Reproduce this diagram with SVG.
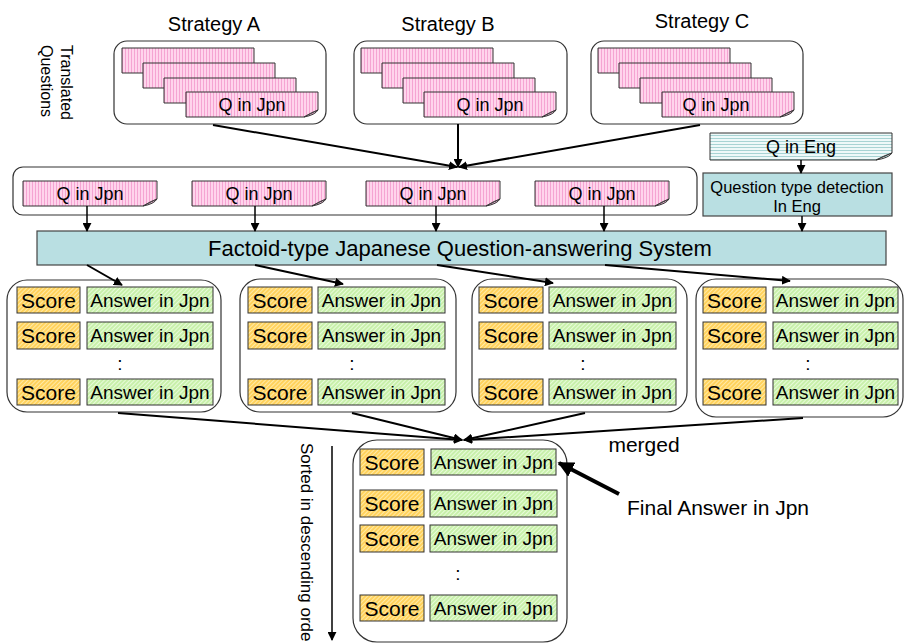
<svg xmlns="http://www.w3.org/2000/svg" xmlns:xlink="http://www.w3.org/1999/xlink" width="904" height="644" viewBox="0 0 904 644">
<style>
text{font-family:"Liberation Sans",Arial,sans-serif;fill:#000}
.grp{fill:#fff;stroke:#333;stroke-width:1.2}
.note{fill:url(#pPink);stroke:#333;stroke-width:1}
.fold{fill:#666;stroke:#333;stroke-width:0.8}
.sys{fill:#b9dfe2;stroke:#444;stroke-width:1.2}
.sc{fill:url(#pScore);stroke:#333;stroke-width:1}
.an{fill:url(#pAns);stroke:#333;stroke-width:1}
.t18{font-size:18px;text-anchor:middle}
.tsc{font-size:21px;text-anchor:middle}
.tan{font-size:19px;text-anchor:middle}
.lbl{font-size:20px;text-anchor:middle}
.con{stroke:#000;stroke-width:2;fill:none;marker-end:url(#ah)}
.con1{stroke:#000;stroke-width:1.5;fill:none;marker-end:url(#ah)}
</style>
<defs>
<pattern id="pPink" width="3" height="3" patternUnits="userSpaceOnUse"><rect width="3" height="3" fill="#ffd4ec"/><rect width="1" height="3" fill="#f5a4d2"/></pattern>
<pattern id="pScore" width="3" height="3" patternUnits="userSpaceOnUse" patternTransform="rotate(45)"><rect width="3" height="3" fill="#ffd25c"/><rect width="1" height="3" fill="#ffe9a6"/></pattern>
<pattern id="pAns" width="3" height="3" patternUnits="userSpaceOnUse" patternTransform="rotate(45)"><rect width="3" height="3" fill="#c8f0aa"/><rect width="1" height="3" fill="#e8fbda"/></pattern>
<pattern id="pEng" width="3" height="3" patternUnits="userSpaceOnUse"><rect width="3" height="3" fill="#eef9f9"/><rect width="3" height="1" fill="#a8d4d4"/></pattern>
<marker id="ah" viewBox="0 0 10 10" refX="9" refY="5" markerWidth="9" markerHeight="9" markerUnits="userSpaceOnUse" orient="auto"><path d="M0,0 L10,5 L0,10 z" fill="#000"/></marker>
<marker id="ahBig" viewBox="0 0 10 10" refX="9" refY="5" markerWidth="16" markerHeight="16" markerUnits="userSpaceOnUse" orient="auto"><path d="M0,0 L10,5 L0,10 z" fill="#000"/></marker>
<g id="n132"><path class="note" d="M0,0 H132 V18 Q129,23 118,25 H0 Z"/><path class="fold" d="M118,25 Q126,20 132,18 Q124,22 118,25 Z"/></g>
<g id="n134"><path class="note" d="M0,0 H134 V18 Q131,23 120,25 H0 Z"/><path class="fold" d="M120,25 Q128,20 134,18 Q126,22 120,25 Z"/></g>
</defs>
<rect width="904" height="644" fill="#fff"/>

<g id="translated-label">
<text transform="translate(61,45) rotate(90)" font-size="16">Translated</text>
<text transform="translate(41,45) rotate(90)" font-size="16">Questions</text>
</g>

<g id="strategyA">
<text class="lbl" x="214" y="31">Strategy A</text>
<rect class="grp" x="114" y="41" width="212" height="83" rx="13"/>
<use xlink:href="#n132" x="122" y="48"/>
<use xlink:href="#n132" x="143" y="63"/>
<use xlink:href="#n132" x="164" y="78"/>
<use xlink:href="#n132" x="186" y="92"/>
<text class="t18" x="252" y="111">Q in Jpn</text>
</g>
<g id="strategyB">
<text class="lbl" x="448" y="31">Strategy B</text>
<rect class="grp" x="354" y="41" width="213" height="83" rx="13"/>
<use xlink:href="#n132" x="361" y="48"/>
<use xlink:href="#n132" x="382" y="63"/>
<use xlink:href="#n132" x="403" y="78"/>
<use xlink:href="#n132" x="424" y="92"/>
<text class="t18" x="490" y="111">Q in Jpn</text>
</g>
<g id="strategyC">
<text class="lbl" x="702" y="28">Strategy C</text>
<rect class="grp" x="591" y="41" width="212" height="83" rx="13"/>
<use xlink:href="#n132" x="598" y="48"/>
<use xlink:href="#n132" x="619" y="63"/>
<use xlink:href="#n132" x="640" y="78"/>
<use xlink:href="#n132" x="662" y="92"/>
<text class="t18" x="716" y="111">Q in Jpn</text>
</g>

<g id="questions">
<rect class="grp" x="13" y="167" width="684" height="48" rx="10"/>
<use xlink:href="#n134" x="23" y="181"/>
<text class="t18" x="90" y="200">Q in Jpn</text>
<use xlink:href="#n134" x="192" y="181"/>
<text class="t18" x="259" y="200">Q in Jpn</text>
<use xlink:href="#n134" x="366" y="181"/>
<text class="t18" x="433" y="200">Q in Jpn</text>
<use xlink:href="#n134" x="535" y="181"/>
<text class="t18" x="602" y="200">Q in Jpn</text>
</g>

<g id="q-eng">
<path d="M710,133 H892 V153 Q889,158 876,160 H710 Z" fill="url(#pEng)" stroke="#333" stroke-width="1"/>
<path class="fold" d="M876,160 Q885,155 892,153 Q883,157 876,160 Z"/>
<text class="t18" x="801" y="153" font-size="19">Q in Eng</text>
</g>
<g id="qtype">
<rect class="sys" x="703" y="173" width="189" height="43"/>
<text x="797" y="193" font-size="16.5" text-anchor="middle">Question type detection</text>
<text x="797" y="212" font-size="16.5" text-anchor="middle">In Eng</text>
</g>

<g id="factoid">
<rect class="sys" x="37" y="231" width="849" height="34"/>
<text x="460" y="256" font-size="22" text-anchor="middle">Factoid-type Japanese Question-answering System</text>
</g>

<g id="answers1">
<rect class="grp" x="7" y="280" width="214" height="132" rx="20"/>
<rect class="sc" x="17" y="287" width="63" height="26"/><text class="tsc" x="48.5" y="307.5">Score</text>
<rect class="an" x="87" y="287" width="126" height="26"/><text class="tan" x="150" y="307">Answer in Jpn</text>
<rect class="sc" x="17" y="322" width="63" height="27"/><text class="tsc" x="48.5" y="343">Score</text>
<rect class="an" x="87" y="322" width="126" height="27"/><text class="tan" x="150" y="342">Answer in Jpn</text>
<text class="tan" x="120" y="370">:</text>
<rect class="sc" x="17" y="379" width="63" height="26"/><text class="tsc" x="48.5" y="399.5">Score</text>
<rect class="an" x="87" y="379" width="126" height="26"/><text class="tan" x="150" y="399">Answer in Jpn</text>
</g>
<g id="answers2">
<rect class="grp" x="240" y="279" width="216" height="133" rx="20"/>
<rect class="sc" x="248" y="287" width="64" height="26"/><text class="tsc" x="280" y="307.5">Score</text>
<rect class="an" x="318" y="287" width="127" height="26"/><text class="tan" x="381.5" y="307">Answer in Jpn</text>
<rect class="sc" x="248" y="322" width="64" height="27"/><text class="tsc" x="280" y="343">Score</text>
<rect class="an" x="318" y="322" width="127" height="27"/><text class="tan" x="381.5" y="342">Answer in Jpn</text>
<text class="tan" x="352" y="370">:</text>
<rect class="sc" x="248" y="379" width="64" height="26"/><text class="tsc" x="280" y="399.5">Score</text>
<rect class="an" x="318" y="379" width="127" height="26"/><text class="tan" x="381.5" y="399">Answer in Jpn</text>
</g>
<g id="answers3">
<rect class="grp" x="472" y="279" width="215" height="133" rx="20"/>
<rect class="sc" x="479" y="287" width="64" height="26"/><text class="tsc" x="511" y="307.5">Score</text>
<rect class="an" x="549" y="287" width="127" height="26"/><text class="tan" x="612.5" y="307">Answer in Jpn</text>
<rect class="sc" x="479" y="322" width="64" height="27"/><text class="tsc" x="511" y="343">Score</text>
<rect class="an" x="549" y="322" width="127" height="27"/><text class="tan" x="612.5" y="342">Answer in Jpn</text>
<text class="tan" x="583" y="370">:</text>
<rect class="sc" x="479" y="379" width="64" height="26"/><text class="tsc" x="511" y="399.5">Score</text>
<rect class="an" x="549" y="379" width="127" height="26"/><text class="tan" x="612.5" y="399">Answer in Jpn</text>
</g>
<g id="answers4">
<rect class="grp" x="696" y="279" width="207" height="138" rx="20"/>
<rect class="sc" x="703" y="287" width="63" height="26"/><text class="tsc" x="734.5" y="307.5">Score</text>
<rect class="an" x="773" y="287" width="125" height="26"/><text class="tan" x="835.5" y="307">Answer in Jpn</text>
<rect class="sc" x="703" y="322" width="63" height="27"/><text class="tsc" x="734.5" y="343">Score</text>
<rect class="an" x="773" y="322" width="125" height="27"/><text class="tan" x="835.5" y="342">Answer in Jpn</text>
<text class="tan" x="808" y="370">:</text>
<rect class="sc" x="703" y="379" width="63" height="26"/><text class="tsc" x="734.5" y="399.5">Score</text>
<rect class="an" x="773" y="379" width="125" height="26"/><text class="tan" x="835.5" y="399">Answer in Jpn</text>
</g>

<g id="merged">
<rect class="grp" x="353" y="440" width="214" height="202" rx="24"/>
<rect class="sc" x="360" y="449" width="64" height="26"/><text class="tsc" x="392" y="469.5">Score</text>
<rect class="an" x="431" y="449" width="125" height="26" stroke="#333399" stroke-width="3"/><text class="tan" x="493.5" y="469">Answer in Jpn</text>
<rect class="sc" x="360" y="490" width="64" height="27"/><text class="tsc" x="392" y="511">Score</text>
<rect class="an" x="430" y="490" width="127" height="27"/><text class="tan" x="493.5" y="510">Answer in Jpn</text>
<rect class="sc" x="360" y="525" width="64" height="27"/><text class="tsc" x="392" y="546">Score</text>
<rect class="an" x="430" y="525" width="127" height="27"/><text class="tan" x="493.5" y="545">Answer in Jpn</text>
<text class="tan" x="458" y="580">:</text>
<rect class="sc" x="360" y="595" width="64" height="26"/><text class="tsc" x="392" y="615.5">Score</text>
<rect class="an" x="430" y="595" width="127" height="26"/><text class="tan" x="493.5" y="615">Answer in Jpn</text>
</g>

<g id="labels">
<text x="644" y="452" font-size="21" text-anchor="middle">merged</text>
<text x="718" y="515" font-size="21" text-anchor="middle">Final Answer in Jpn</text>
<text transform="translate(301,443) rotate(90)" font-size="17">Sorted in descending orde</text>
</g>

<g id="connectors">
<path class="con" d="M213,125 L457,167"/>
<path class="con" d="M458,124 L458,167"/>
<path class="con" d="M700,125 L459,167"/>
<path class="con1" d="M87,206 V231"/>
<path class="con1" d="M255,206 V231"/>
<path class="con1" d="M436,206 V231"/>
<path class="con1" d="M604,206 V231"/>
<path class="con1" d="M801,160 V173"/>
<path class="con1" d="M802,216 V231"/>
<path class="con" d="M87,265 L122,285"/>
<path class="con" d="M255,265 L343,284"/>
<path class="con" d="M437,265 L553,283"/>
<path class="con" d="M605,265 L790,281"/>
<path class="con" d="M118,413 L462,440"/>
<path class="con" d="M352,413 L462,440"/>
<path class="con" d="M585,413 L464,440"/>
<path class="con" d="M803,418 L464,440"/>
<path class="con1" d="M332,446 V640"/>
<path d="M619,494 L559,463" stroke="#000" stroke-width="4" fill="none" marker-end="url(#ahBig)"/>
</g>
</svg>
